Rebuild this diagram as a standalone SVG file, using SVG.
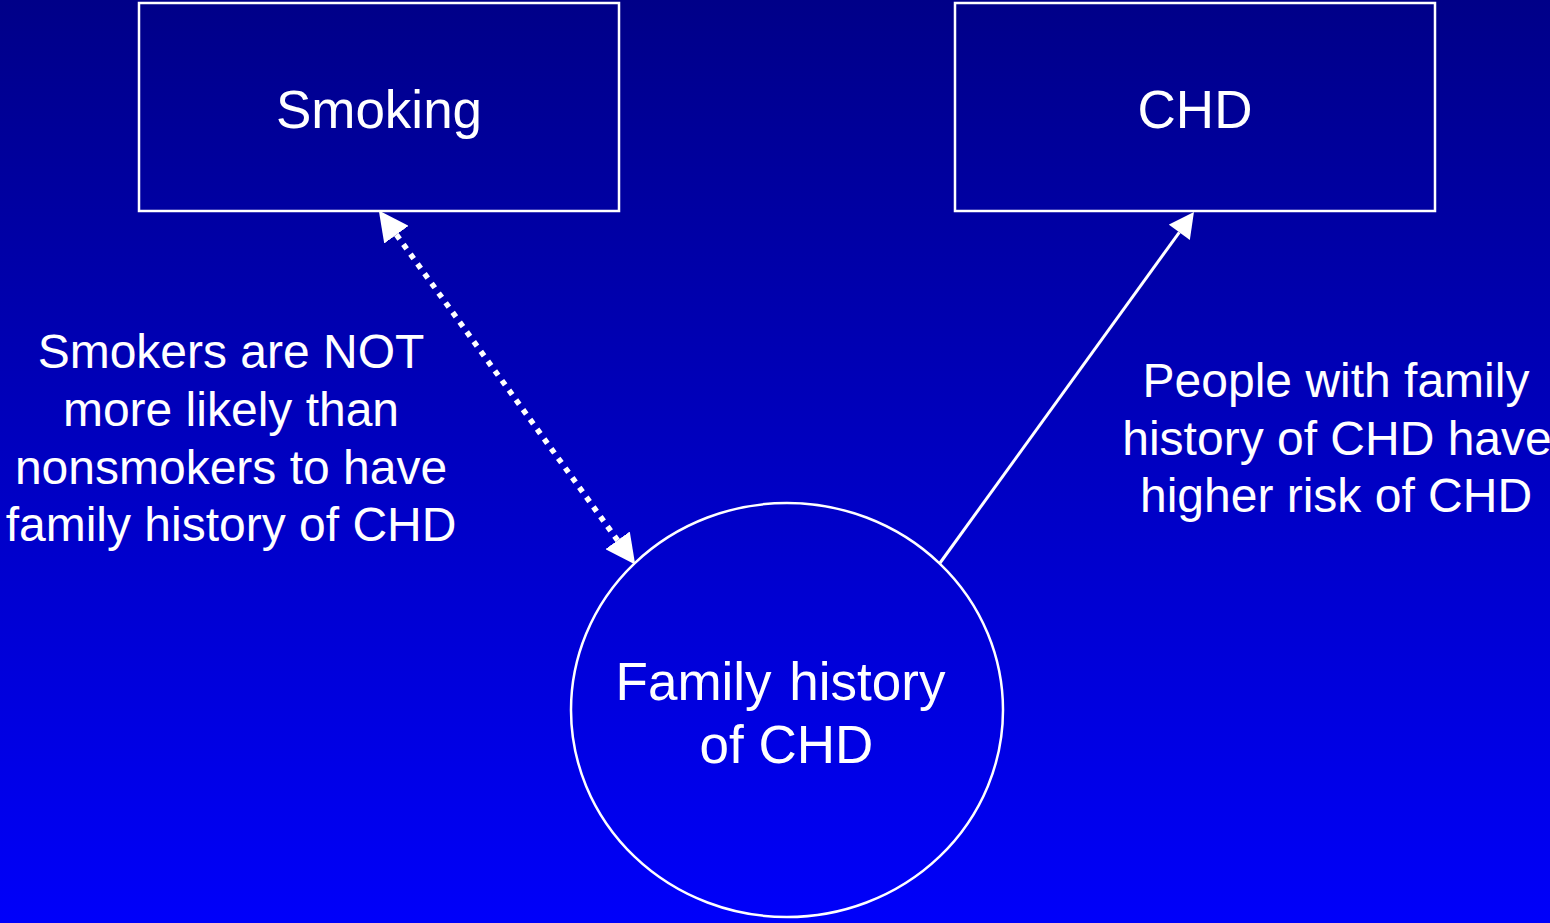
<svg xmlns="http://www.w3.org/2000/svg" width="1550" height="923" viewBox="0 0 1550 923">
  <defs>
    <linearGradient id="bg" x1="0" y1="0" x2="0" y2="1">
      <stop offset="0" stop-color="#000088"/>
      <stop offset="1" stop-color="#0000FA"/>
    </linearGradient>
    <marker id="ah" markerUnits="userSpaceOnUse" markerWidth="30" markerHeight="30" refX="0" refY="14" orient="auto-start-reverse" viewBox="0 0 28 28">
      <path d="M0,0 L28,14 L0,28 z" fill="#fff"/>
    </marker>
    <marker id="ah2" markerUnits="userSpaceOnUse" markerWidth="26" markerHeight="26" refX="0" refY="13" orient="auto" viewBox="0 0 25 26">
      <path d="M0,0 L25,13 L0,26 z" fill="#fff"/>
    </marker>
  </defs>
  <style>
    .box { fill: none; stroke: #fff; stroke-width: 2.5; }
    .node-label { font-family: "Liberation Sans", Arial, sans-serif; font-size: 53px; fill: #fff; text-anchor: middle; }
    .label { font-family: "Liberation Sans", Arial, sans-serif; font-size: 48px; fill: #fff; text-anchor: middle; }
  </style>
  <rect x="0" y="0" width="1550" height="923" fill="url(#bg)"/>

  <g id="connectors">
    <line x1="396.4" y1="234.7" x2="617.6" y2="540.3" stroke="#fff" stroke-width="5.5" stroke-dasharray="5.5 6.5" marker-start="url(#ah)" marker-end="url(#ah)"/>
    <line x1="940" y1="563" x2="1179.3" y2="232.3" stroke="#fff" stroke-width="3" marker-end="url(#ah2)"/>
  </g>

  <g id="node-smoking">
    <rect class="box" x="139" y="3" width="480" height="208"/>
    <text class="node-label" x="379" y="128">Smoking</text>
  </g>
  <g id="node-chd">
    <rect class="box" x="955" y="3" width="480" height="208"/>
    <text class="node-label" x="1195" y="128">CHD</text>
  </g>
  <g id="node-family">
    <ellipse class="box" cx="787" cy="710" rx="216" ry="207"/>
    <text class="node-label" x="780.5" y="700" font-size="52" word-spacing="3">Family history</text>
    <text class="node-label" x="786.5" y="763" font-size="52">of CHD</text>
  </g>

  <g id="label-left">
    <text class="label" x="231" y="368">Smokers are NOT</text>
    <text class="label" x="231" y="426">more likely than</text>
    <text class="label" x="231" y="484">nonsmokers to have</text>
    <text class="label" x="231" y="541">family history of CHD</text>
  </g>
  <g id="label-right">
    <text class="label" x="1336" y="397">People with family</text>
    <text class="label" x="1337" y="455">history of CHD have</text>
    <text class="label" x="1336" y="512">higher risk of CHD</text>
  </g>
</svg>
